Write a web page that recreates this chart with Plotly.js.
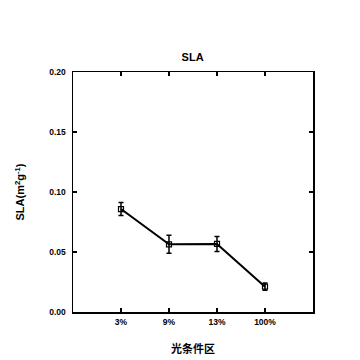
<!DOCTYPE html>
<html><head><meta charset="utf-8">
<script src="https://cdn.plot.ly/plotly-3.0.1.min.js"></script>
<style>body{margin:0;background:#fff}#c{width:360px;height:360px}</style>
</head><body><div id="c"></div>
<script>
var categories = ["3%", "9%", "13%", "100%"];
var slaValues = [0.0858, 0.0564, 0.0567, 0.0211];
var slaErrors = [0.0054, 0.0075, 0.0062, 0.0030];
var yTickVals = [0, 0.05, 0.10, 0.15, 0.20];
var yTickText = ["0.00", "0.05", "0.10", "0.15", "0.20"];

var xIdx = categories.map(function(c, i){ return i; });
var font = "Liberation Sans, Arial, sans-serif";

var trace = {
  x: xIdx, y: slaValues, type: "scatter", mode: "lines+markers",
  line: {color: "#000", width: 2},
  marker: {symbol: "square-open", size: 5, color: "#000", line: {width: 1.2, color: "#000"}},
  error_y: {type: "data", array: slaErrors, visible: true, color: "#000", thickness: 1.5, width: 2.5},
  showlegend: false
};

var layout = {
  width: 360, height: 360,
  margin: {l: 73, r: 47, t: 72, b: 48},
  paper_bgcolor: "#fff", plot_bgcolor: "#fff",
  title: {text: "<b>SLA</b>", font: {family: font, size: 11, color: "#000"}, x: 0.535, xanchor: "center", y: 0.842, yanchor: "middle"},
  xaxis: {
    range: [-1, 4], tickvals: xIdx, ticktext: categories,
    ticks: "inside", ticklen: 4, tickwidth: 1.2, tickcolor: "#000",
    showline: true, linecolor: "#000", linewidth: 1.5, mirror: "ticks",
    showgrid: false, zeroline: false, ticklabelstandoff: 1,
    tickfont: {family: font, size: 8.5, color: "#000", weight: "bold"},
    title: {text: "<b>光条件区</b>", font: {family: "Noto Sans CJK SC, sans-serif", size: 11, color: "#000"}, standoff: 19}
  },
  yaxis: {
    range: [0, 0.2], tickvals: yTickVals, ticktext: yTickText,
    ticks: "inside", ticklen: 4, tickwidth: 1.2, tickcolor: "#000",
    showline: true, linecolor: "#000", linewidth: 1.5, mirror: "ticks",
    showgrid: false, zeroline: false, ticklabelstandoff: 4,
    tickfont: {family: font, size: 8.5, color: "#000", weight: "bold"},
    title: {text: "<b>SLA(m<sup>2</sup>g<sup>-1</sup>)</b>", font: {family: font, size: 11, color: "#000"}, standoff: 22}
  }
};

Plotly.newPlot("c", [trace], layout, {staticPlot: true, displayModeBar: false});
</script></body></html>
